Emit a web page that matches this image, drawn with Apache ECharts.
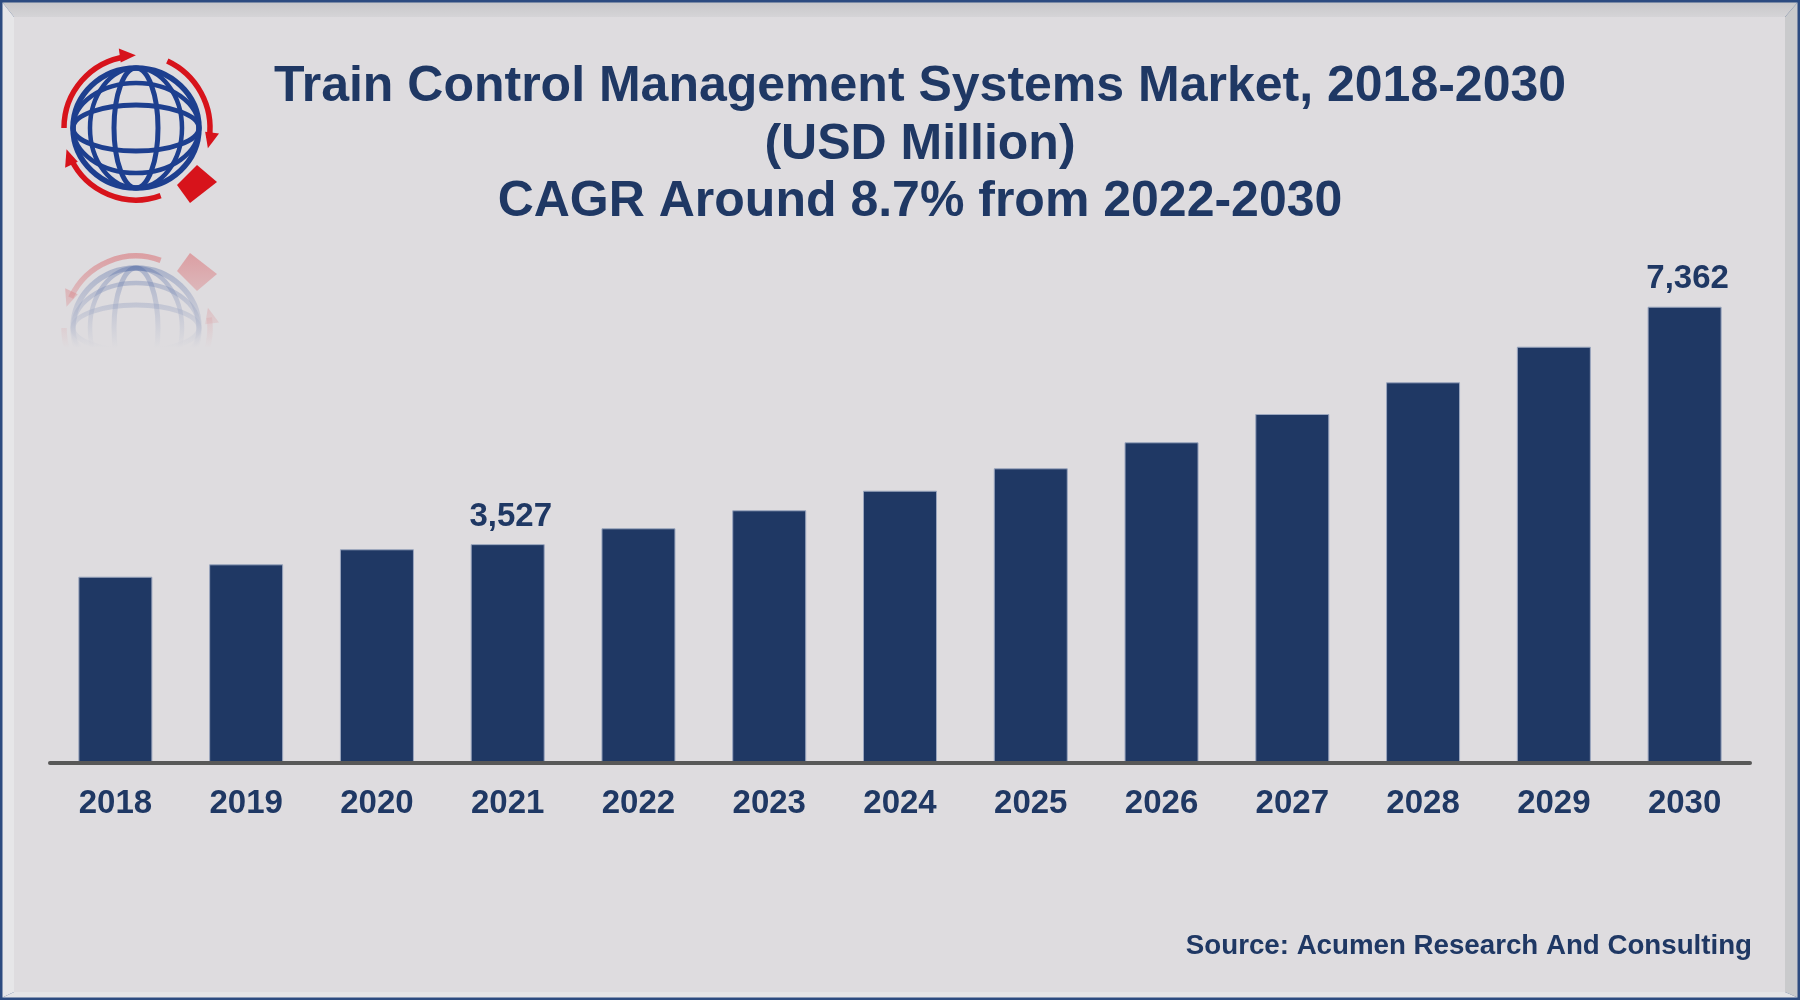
<!DOCTYPE html>
<html>
<head>
<meta charset="utf-8">
<script src="https://cdn.jsdelivr.net/npm/echarts@6/dist/echarts.min.js"></script>
<style>
html,body{margin:0;padding:0;background:#2c4b80;}
#chart{width:1800px;height:1000px;}
</style>
</head>
<body>
<div id="chart"></div>
<script>
// ---- data ----
const years = ['2018','2019','2020','2021','2022','2023','2024','2025','2026','2027','2028','2029','2030'];
const marketValues = [3001, 3201, 3444, 3527, 3783, 4074, 4390, 4752, 5172, 5629, 6141, 6716, 7362];
const labeledYears = ['2021', '2030'];
const titleLines = [
  'Train Control Management Systems Market, 2018-2030',
  '(USD Million)',
  'CAGR Around 8.7% from 2022-2030'
];
const sourceText = 'Source: Acumen Research And Consulting';

// ---- styles ----
const NAVY = '#1f3864';
const BG = '#dedcdf';
const FONT = '"Liberation Sans", Arial, Helvetica, sans-serif';
const GLOBE = '#1d3f8f';
const RED = '#d7131b';

// ---- decorative logo (drawn shapes) ----
function logo(opacity) {
  const cx = 136, cy = 128;
  const els = [];
  const stroke = (c, w) => ({ fill: null, stroke: c, lineWidth: w, opacity: opacity });
  els.push({ type: 'ellipse', shape: { cx: cx, cy: cy, rx: 63, ry: 60 }, style: stroke(GLOBE, 5.5) });
  els.push({ type: 'ellipse', shape: { cx: cx, cy: cy, rx: 46, ry: 60 }, style: stroke(GLOBE, 4.5) });
  els.push({ type: 'ellipse', shape: { cx: cx, cy: cy, rx: 22, ry: 60 }, style: stroke(GLOBE, 5) });
  els.push({ type: 'ellipse', shape: { cx: cx, cy: cy, rx: 63, ry: 45 }, style: stroke(GLOBE, 4.5) });
  els.push({ type: 'ellipse', shape: { cx: cx, cy: cy, rx: 63, ry: 23 }, style: stroke(GLOBE, 5) });
  const arcs = [[72, 180, 262], [74, 295, 368], [72, 70, 155]];
  arcs.forEach(function (a) {
    const r = a[0], s = a[1] * Math.PI / 180, e = a[2] * Math.PI / 180;
    els.push({ type: 'arc', shape: { cx: cx, cy: cy, r: r, startAngle: s, endAngle: e, clockwise: true }, style: stroke(RED, 5.5) });
    const px = cx + r * Math.cos(e), py = cy + r * Math.sin(e);
    const tx = -Math.sin(e), ty = Math.cos(e);
    const nx = Math.cos(e), ny = Math.sin(e);
    els.push({ type: 'polygon', shape: { points: [
      [px + tx * 10, py + ty * 10],
      [px - tx * 6 + nx * 9, py - ty * 6 + ny * 9],
      [px - tx * 6 - nx * 5, py - ty * 6 - ny * 5]
    ] }, style: { fill: RED, opacity: opacity } });
  });
  els.push({ type: 'polygon', shape: { points: [[197, 165], [217, 182], [190, 203], [177, 185]] }, style: { fill: RED, opacity: opacity } });
  return els;
}

const frame = [
  { type: 'rect', shape: { x: 0, y: 0, width: 1800, height: 1000 }, style: { fill: '#2c4b80' }, z: 0 },
  { type: 'polygon', shape: { points: [[2.5, 2.5], [1797.5, 2.5], [1785, 17], [14, 17]] },
    style: { fill: new echarts.graphic.LinearGradient(0, 0, 0, 1, [{ offset: 0, color: '#c8c8ca' }, { offset: 1, color: '#d5d4d7' }]) }, z: 0 },
  { type: 'polygon', shape: { points: [[2.5, 2.5], [14, 17], [14, 992], [2.5, 997.5]] }, style: { fill: '#e6e6e8' }, z: 0 },
  { type: 'polygon', shape: { points: [[1797.5, 2.5], [1797.5, 997.5], [1785, 992], [1785, 17]] }, style: { fill: '#c9cacc' }, z: 0 },
  { type: 'polygon', shape: { points: [[2.5, 997.5], [14, 992], [1785, 992], [1797.5, 997.5]] }, style: { fill: '#e4e4e6' }, z: 0 },
  { type: 'rect', shape: { x: 14, y: 17, width: 1771, height: 975 }, style: { fill: BG }, z: 0 }
];

const graphics = frame.concat([
  { type: 'group', z: 1, children: logo(1) },
  { type: 'group', z: 1, y: 456, scaleY: -1, children: logo(0.35) },
  { type: 'rect', z: 1, shape: { x: 40, y: 240, width: 220, height: 180 },
    style: { fill: new echarts.graphic.LinearGradient(0, 0, 0, 1, [
      { offset: 0, color: 'rgba(222,220,223,0)' },
      { offset: 0.6, color: 'rgba(222,220,223,1)' },
      { offset: 1, color: 'rgba(222,220,223,1)' }]) } },
  { type: 'text', z: 5, x: 1752, y: 946.5,
    style: { text: sourceText, textAlign: 'right', textVerticalAlign: 'middle',
      font: 'bold 27.7px ' + FONT, fill: NAVY } }
]);

const chart = echarts.init(document.getElementById('chart'));
chart.setOption({
  backgroundColor: 'transparent',
  animation: false,
  graphic: graphics,
  title: {
    text: titleLines.join('\n'),
    left: 915,
    top: 53.5,
    textAlign: 'center',
    textStyle: { color: NAVY, fontSize: 50, fontWeight: 'bold', fontFamily: FONT, lineHeight: 57.5 }
  },
  grid: { left: 50, right: 50, top: 205.3, bottom: 237.5, containLabel: false },
  xAxis: {
    type: 'category',
    data: years,
    z: 3,
    axisLine: { show: true, lineStyle: { color: '#585858', width: 4 } },
    axisTick: { show: false },
    axisLabel: { color: NAVY, fontSize: 33, fontWeight: 'bold', fontFamily: FONT, margin: 25 }
  },
  yAxis: {
    type: 'value', min: 0, max: 9000, show: false,
    splitLine: { show: false }
  },
  series: [{
    type: 'bar',
    barWidth: 74,
    itemStyle: { color: NAVY, borderColor: '#9aa6be', borderWidth: 1 },
    label: {
      show: false, position: 'top', distance: 11, offset: [3, 0],
      color: NAVY, fontSize: 33, fontWeight: 'bold', fontFamily: FONT,
      formatter: function (p) { return Number(p.value).toLocaleString('en-US'); }
    },
    data: marketValues.map(function (v, i) {
      return { value: v, label: { show: labeledYears.indexOf(years[i]) >= 0 } };
    })
  }]
});
</script>
</body>
</html>
